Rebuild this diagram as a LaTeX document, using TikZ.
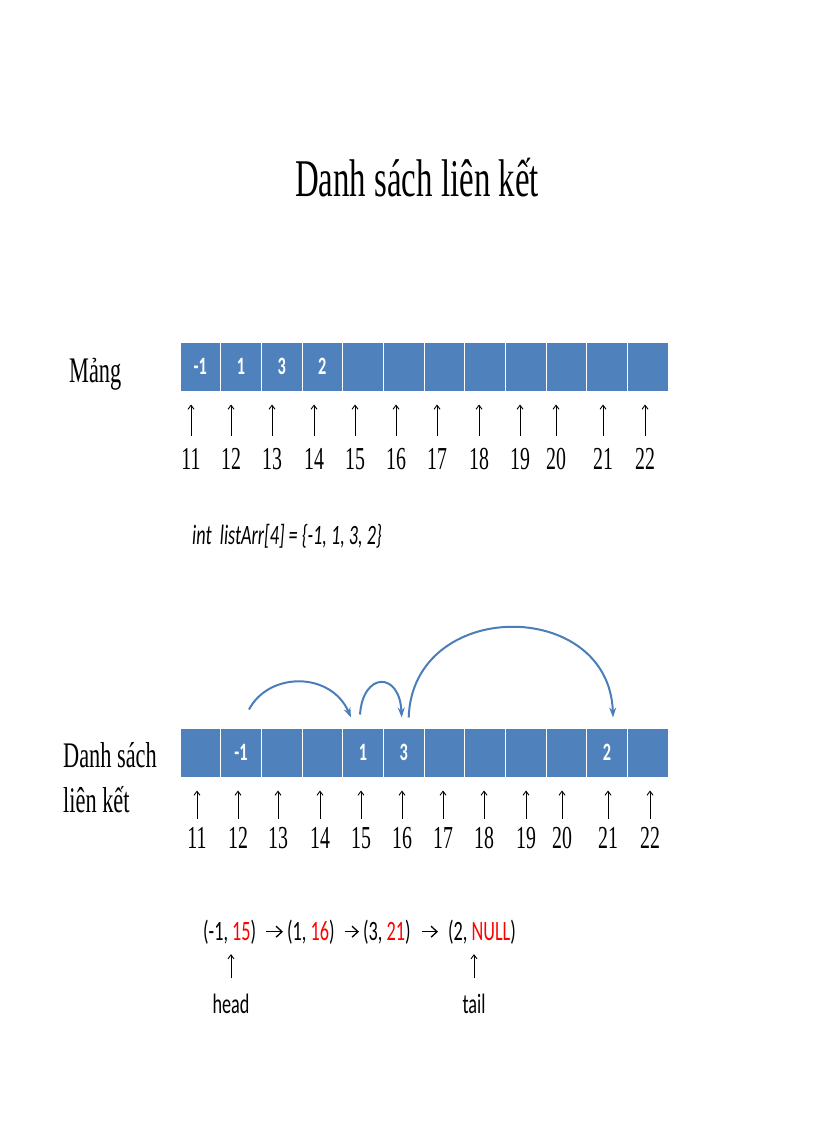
\documentclass[tikz,border=0pt]{standalone}
\usepackage{fontspec}
\usetikzlibrary{arrows.meta}
\setmainfont{Liberation Serif}
\newfontfamily\tnr[FakeStretch=0.62]{Liberation Serif}
\newfontfamily\calib[FakeStretch=0.65]{Carlito}
\definecolor{cellblue}{HTML}{4F81BD}
\definecolor{arcblue}{HTML}{4A7EBB}
\newcommand{\fs}[1]{\fontsize{#1}{#1}\selectfont}

\begin{document}
\begin{tikzpicture}[x=1pt,y=-1pt,
   cell/.style={draw=white,line width=1pt,fill=cellblue,minimum width=40.67pt,minimum height=49pt,
                inner sep=0pt,text=white,font=\calib\bfseries\fs{25}},
   num/.style={inner sep=0pt,anchor=base,font=\tnr\fs{32}},
   up/.style={line width=0.9pt,-{Straight Barb[length=4pt,width=6pt]}},
   hop/.style={arcblue,line width=2pt,-{Stealth[length=10pt,width=7pt]}},
   nxt/.style={line width=1.3pt,-{Straight Barb[length=6pt,width=11pt]}},
   pair/.style={inner sep=0pt,anchor=base west,font=\calib\fs{28}}]
   \fill[white] (0,0) rectangle (816,1123);
   \useasboundingbox (0,0) rectangle (816,1123);
   \node[anchor=base,inner sep=0pt,font=\tnr\fs{53}] (title) at (417,197) {Danh sách liên kết};
   \node[anchor=base west,inner sep=0pt,font=\tnr\fs{36}] (mang) at (69,382) {Mảng};
   \node[anchor=north west,inner sep=0pt,align=left,font=\tnr\fontsize{36}{45}\selectfont] (dslk) at (63,742) {Danh sách\\liên kết};
   \node[anchor=base west,inner sep=0pt,font=\calib\itshape\fs{28}] (code) at (192,544) {int\ \ listArr[4] = \{-1, 1, 3, 2\}};

   \foreach \v [count=\i] in {-1,1,3,2,{},{},{},{},{},{},{},{}}
      \node[cell] (a\i) at ({180+40.67*(\i-0.5)},366.5) {\v};
   \foreach \x [count=\i] in {191,231,272,314,355,396,437,479,520,556,603,645} {
      \node[num] (t\i) at (\x,469) {\the\numexpr\i+10\relax};
      \draw[up,shorten <=12pt,shorten >=13pt] (t\i.north) -- (t\i.north |- a\i.south);
   }

   \foreach \v [count=\i] in {{},-1,{},{},1,3,{},{},{},{},2,{}}
      \node[cell] (b\i) at ({180+40.67*(\i-0.5)},752.5) {\v};
   \foreach \x [count=\i] in {197,238,278,320,361,402,443,484,526,562,608,650} {
      \node[num] (u\i) at (\x,848) {\the\numexpr\i+10\relax};
      \draw[up,shorten <=8pt,shorten >=13pt] (u\i.north) -- (u\i.north |- b\i.south);
   }
   \draw[hop] ([xshift=8pt,yshift=18pt]b2.north) .. controls +(20,-38) and +(-20,-46) .. ([xshift=-12pt,yshift=10pt]b5.north);
   \draw[hop] ([xshift=-3pt,yshift=13pt]b5.north) .. controls +(3,-43) and +(-2,-46) .. ([xshift=-2pt,yshift=10pt]b6.north);
   \draw[hop] ([xshift=5pt,yshift=10pt]b6.north) .. controls +(4,-120) and +(-4,-120) .. ([xshift=6pt,yshift=10pt]b11.north);

   \node[pair] (p1) at (203,940) {(-1, \textcolor{red}{15})};
   \node[pair] (p2) at (287,940) {(1, \textcolor{red}{16})};
   \node[pair] (p3) at (363,940) {(3, \textcolor{red}{21})};
   \node[pair] (p4) at (448,940) {(2, \textcolor{red}{NULL})};
   \draw[nxt,shorten <=10pt,shorten >=4pt] (p1) -- (p2);
   \draw[nxt,shorten <=10pt,shorten >=4pt] (p2) -- (p3);
   \draw[nxt,shorten <=11pt,shorten >=10pt] (p3) -- (p4);
   \node[anchor=base,inner sep=0pt,font=\calib\fs{28}] (head) at (231,1013) {head};
   \node[anchor=base,inner sep=0pt,font=\calib\fs{28}] (tail) at (474,1013) {tail};
   \draw[up,shorten <=15pt,shorten >=10pt] (head.north) -- (head.north |- p1.south);
   \draw[up,shorten <=15pt,shorten >=10pt] (tail.north) -- (tail.north |- p4.south);
\end{tikzpicture}
\end{document}
